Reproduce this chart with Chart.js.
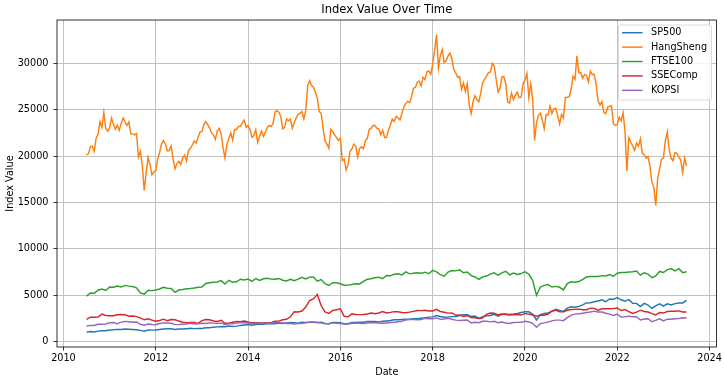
<!DOCTYPE html>
<html>
<head>
<meta charset="utf-8">
<script src="https://cdn.jsdelivr.net/npm/chart.js@4.4.0/dist/chart.umd.min.js"></script>
<style>
  html, body { margin: 0; padding: 0; background: #fff; }
  #wrap { width: 724px; height: 380px; }
</style>
</head>
<body>
<div id="wrap"><canvas id="indexChart" width="724" height="380"></canvas></div>
<script>
const seriesNames = ['SP500', 'HangSheng', 'FTSE100', 'SSEComp', 'KOPSI'];
const seriesColors = ['#1f77b4', '#ff7f0e', '#2ca02c', '#d62728', '#9467bd'];
const xTicks = [2010, 2012, 2014, 2016, 2018, 2020, 2022, 2024];
const yTicks = [0, 5000, 10000, 15000, 20000, 25000, 30000];

// month-end values, Jun 2010 .. Jun 2023
const sp500 = [
  1031, 1102, 1049, 1141, 1183, 1181, 1258,
  1286, 1327, 1326, 1364, 1345, 1321, 1292, 1219, 1131, 1253, 1247, 1258,
  1312, 1366, 1408, 1398, 1310, 1362, 1379, 1407, 1441, 1412, 1416, 1426,
  1498, 1515, 1569, 1598, 1631, 1606, 1686, 1633, 1682, 1757, 1806, 1848,
  1783, 1859, 1872, 1884, 1924, 1960, 1931, 2003, 1972, 2018, 2068, 2059,
  1995, 2105, 2068, 2086, 2107, 2063, 2104, 1972, 1920, 2079, 2080, 2044,
  1940, 1932, 2060, 2065, 2097, 2099, 2174, 2171, 2168, 2126, 2199, 2239,
  2279, 2364, 2363, 2384, 2412, 2423, 2470, 2472, 2519, 2575, 2648, 2674,
  2824, 2714, 2641, 2648, 2705, 2718, 2816, 2902, 2914, 2712, 2760, 2507,
  2704, 2784, 2834, 2946, 2752, 2942, 2980, 2926, 2977, 3038, 3141, 3231,
  3226, 2954, 2350, 2912, 3044, 3100, 3271, 3500, 3363, 3270, 3622, 3756,
  3714, 3811, 3973, 4181, 4204, 4298, 4395, 4523, 4308, 4605, 4567, 4766,
  4516, 4374, 4530, 4132, 4132, 3785, 4130, 3955, 3586, 3872, 4080, 3840,
  4077, 3970, 4109, 4169, 4180, 4450
];
const ftse100 = [
  4917, 5258, 5225, 5549, 5675, 5528, 5900,
  5863, 5994, 5909, 6070, 5990, 5946, 5815, 5250, 5128, 5544, 5505, 5572,
  5682, 5872, 5768, 5737, 5321, 5571, 5635, 5711, 5742, 5783, 5867, 5898,
  6277, 6361, 6412, 6430, 6583, 6215, 6621, 6413, 6462, 6731, 6651, 6749,
  6510, 6810, 6598, 6780, 6845, 6744, 6730, 6820, 6623, 6546, 6723, 6566,
  6749, 6947, 6773, 6961, 6984, 6521, 6696, 6248, 6062, 6361, 6356, 6242,
  6084, 6097, 6175, 6242, 6231, 6504, 6724, 6782, 6899, 6954, 6784, 7143,
  7099, 7263, 7323, 7204, 7520, 7313, 7372, 7431, 7373, 7493, 7327, 7688,
  7534, 7232, 7057, 7509, 7678, 7637, 7749, 7432, 7510, 7128, 6980, 6728,
  6969, 7075, 7279, 7418, 7162, 7426, 7587, 7207, 7408, 7248, 7347, 7542,
  7286, 6581, 5000, 5901, 6077, 6170, 5898, 5964, 5866, 5577, 6266, 6461,
  6407, 6483, 6714, 6970, 7023, 7037, 7032, 7120, 7086, 7238, 7059, 7385,
  7464, 7458, 7516, 7545, 7608, 7169, 7423, 7284, 6894, 7095, 7573, 7452,
  7772, 7876, 7632, 7871, 7446, 7532
];
const sseComp = [
  2398, 2638, 2639, 2656, 2979, 2820, 2808,
  2791, 2905, 2928, 2911, 2743, 2762, 2701, 2568, 2359, 2469, 2333, 2199,
  2292, 2428, 2262, 2397, 2373, 2225, 2103, 2047, 2086, 2069, 1980, 2269,
  2385, 2366, 2237, 2178, 2301, 1979, 1994, 2098, 2175, 2142, 2220, 2116,
  2033, 2056, 2033, 2026, 2039, 2048, 2202, 2217, 2364, 2420, 2683, 3235,
  3210, 3310, 3748, 4442, 4612, 5100, 3900, 3206, 3053, 3383, 3445, 3539,
  2738, 2688, 3004, 2938, 2917, 2930, 2979, 3085, 3005, 3100, 3250, 3104,
  3159, 3242, 3223, 3155, 3117, 3192, 3273, 3361, 3349, 3393, 3317, 3307,
  3481, 3259, 3169, 3082, 3095, 2847, 2876, 2725, 2821, 2603, 2588, 2494,
  2585, 2941, 3091, 3078, 2899, 2979, 2933, 2886, 2905, 2929, 2872, 3050,
  2977, 2880, 2750, 2860, 2852, 2985, 3310, 3396, 3218, 3225, 3392, 3473,
  3483, 3509, 3442, 3447, 3615, 3591, 3397, 3544, 3568, 3547, 3564, 3640,
  3361, 3462, 3252, 3047, 3186, 3399, 3253, 3202, 3024, 2893, 3151, 3089,
  3256, 3280, 3273, 3323, 3205, 3202
];
const kopsi = [
  1698, 1759, 1743, 1873, 1883, 1905, 2051,
  2069, 1939, 2107, 2192, 2142, 2101, 2133, 1880, 1770, 1909, 1848, 1826,
  1956, 2030, 2014, 1982, 1843, 1854, 1881, 1905, 1996, 1912, 1933, 1997,
  1962, 2027, 2005, 1964, 2001, 1863, 1920, 1926, 2005, 2031, 2044, 2011,
  1941, 1980, 1986, 1962, 1995, 2002, 2076, 2068, 2020, 1964, 1981, 1916,
  1949, 1986, 2041, 2127, 2115, 2074, 2030, 1941, 1963, 2029, 1992, 1961,
  1912, 1917, 1996, 1994, 1983, 1970, 2016, 2034, 2043, 2008, 1983, 2026,
  2067, 2091, 2160, 2205, 2347, 2392, 2403, 2363, 2394, 2523, 2476, 2467,
  2566, 2427, 2446, 2515, 2423, 2326, 2295, 2323, 2343, 2030, 2097, 2041,
  2205, 2195, 2141, 2204, 2042, 2131, 2025, 1967, 2063, 2083, 2088, 2198,
  2119, 1987, 1550, 1947, 2030, 2108, 2249, 2326, 2328, 2267, 2591, 2873,
  2976, 3013, 3061, 3148, 3204, 3297, 3202, 3199, 3069, 2971, 2839, 2977,
  2663, 2699, 2757, 2695, 2686, 2333, 2452, 2472, 2155, 2293, 2472, 2236,
  2425, 2413, 2477, 2501, 2577, 2564
];
// HangSheng: 2010-06-29, then mid-month / month-end pairs, Jul 2010 .. Jun 2023
const hangSheng = [
  20129,
  20250, 21030, 21070, 20536, 21970, 22358, 23700, 23096, 24700, 23007, 22700, 23035,
  24100, 23447, 22900, 23338, 22800, 23527, 24100, 23720, 23300, 23684, 22400, 22398,
  22300, 22440, 19900, 20534, 19000, 16300, 18200, 19864, 19100, 17989, 18300, 18434,
  19700, 20390, 21300, 21680, 21300, 20556, 20600, 21094, 19700, 18630, 19200, 19441,
  19100, 19796, 20100, 19482, 20600, 20840, 21200, 21642, 21400, 22030, 22600, 22657,
  23400, 23730, 23400, 23020, 22500, 22300, 21800, 22737, 23000, 22392, 20900, 19800,
  21300, 21883, 22500, 21731, 22900, 22860, 23200, 23206, 23600, 23881, 23100, 23306,
  22900, 22035, 22200, 22837, 21500, 22151, 22700, 22134, 22600, 23082, 23300, 23191,
  23500, 24757, 24900, 24742, 24300, 22933, 23100, 23998, 23800, 23987, 23000, 23605,
  24100, 24507, 24600, 24823, 24000, 24901, 27600, 28133, 27600, 27424, 26900, 26250,
  24800, 24636, 23000, 21670, 21300, 20846, 22900, 22640, 22300, 21996, 21700, 21914,
  19500, 19683, 18500, 19112, 20500, 20777, 21300, 21067, 19900, 20815, 21000, 20794,
  21700, 21891, 22900, 22977, 23300, 23297, 23000, 22935, 22300, 22790, 22000, 22001,
  22800, 23361, 24000, 23741, 24300, 24112, 23900, 24615, 25300, 25661, 25900, 25765,
  26400, 27324, 27400, 27970, 28100, 27554, 28500, 28246, 29100, 29177, 28800, 29919,
  31400, 33100, 29500, 30845, 31500, 30093, 30300, 30808, 31100, 30469, 29300, 28955,
  28500, 28583, 27200, 27889, 27000, 27789, 25500, 24600, 25900, 26507, 26100, 25846,
  26800, 27942, 28300, 28633, 29000, 29051, 30000, 29699, 28300, 26901, 27300, 28543,
  28600, 27778, 25800, 25725, 26800, 26092, 26600, 26907, 26300, 26346, 27800, 28190,
  28900, 26313, 27800, 26130, 21700, 23603, 24400, 24644, 23900, 22961, 24500, 24427,
  25400, 24595, 25100, 25177, 24400, 23459, 24500, 24107, 26300, 26341, 26400, 27231,
  28600, 28284, 30800, 28980, 29000, 28378, 28800, 28725, 28000, 29152, 28800, 28828,
  27700, 25961, 25500, 25879, 24700, 24576, 25300, 25377, 25400, 23475, 23300, 23398,
  24200, 23802, 24700, 22713, 18400, 21997, 21500, 21089, 20600, 21415, 21100, 21860,
  20300, 20157, 19800, 19954, 18900, 17223, 16600, 14687, 17600, 18597, 19700, 19781,
  21700, 22600, 20700, 19786, 19500, 20400, 20300, 19895, 19600, 18234, 19800, 18916
];

// month labels Jun 2010 .. Jun 2023
const months = [];
for (let y = 2010, m = 6; y < 2023 || (y === 2023 && m <= 6); ) {
  months.push(y + '-' + String(m).padStart(2, '0'));
  m++;
  if (m > 12) { m = 1; y++; }
}
const monthEnd = s => { const [y, m] = s.split('-').map(Number); return y + m / 12; };
const monthMid = s => { const [y, m] = s.split('-').map(Number); return y + (m - 0.5) / 12; };

const monthX = months.map(monthEnd);
const halfMonthX = [2010.49];
months.slice(1).forEach(s => { halfMonthX.push(monthMid(s), monthEnd(s)); });

const pts = (xs, ys) => ys.map((v, i) => ({ x: xs[i], y: v }));
const seriesPoints = [
  pts(monthX, sp500),
  pts(halfMonthX, hangSheng),
  pts(monthX, ftse100),
  pts(monthX, sseComp),
  pts(monthX, kopsi)
];

const FONT = 'DejaVu Sans';
const tickFont = { family: FONT, size: 9.7 };
const textColor = '#000';
const gridColor = '#c2c2c2';

// axes box on all four sides + matplotlib style legend
const axesFrame = {
  id: 'axesFrame',
  afterDraw(chart) {
    const { ctx, chartArea: a } = chart;
    ctx.save();
    ctx.strokeStyle = '#000';
    ctx.lineWidth = 0.8;
    ctx.strokeRect(a.left, a.top, a.right - a.left, a.bottom - a.top);

    const w = 93, h = 75;
    const x0 = a.right - 5 - w, y0 = a.top + 5;
    ctx.fillStyle = 'rgba(255,255,255,0.8)';
    ctx.strokeStyle = '#d0d0d0';
    ctx.lineWidth = 0.8;
    ctx.beginPath();
    ctx.roundRect(x0, y0, w, h, 2);
    ctx.fill();
    ctx.stroke();

    ctx.font = '9.7px "' + FONT + '"';
    ctx.textBaseline = 'middle';
    ctx.textAlign = 'left';
    chart.data.datasets.forEach((ds, i) => {
      const y = y0 + 7.7 + i * 14.4;
      ctx.strokeStyle = ds.borderColor;
      ctx.lineWidth = 1.45;
      ctx.beginPath();
      ctx.moveTo(x0 + 3.5, y);
      ctx.lineTo(x0 + 24, y);
      ctx.stroke();
      ctx.fillStyle = textColor;
      ctx.fillText(ds.label, x0 + 32.5, y);
    });
    ctx.restore();
  }
};

new Chart(document.getElementById('indexChart'), {
  type: 'line',
  data: {
    datasets: seriesNames.map((name, i) => ({
      label: name,
      data: seriesPoints[i],
      borderColor: seriesColors[i],
      backgroundColor: seriesColors[i],
      order: seriesNames.length - 1 - i
    }))
  },
  options: {
    responsive: false,
    animation: false,
    layout: { padding: { left: 0, right: 7, top: 0, bottom: 0 } },
    elements: {
      point: { radius: 0 },
      line: { tension: 0, borderWidth: 1.45 }
    },
    plugins: {
      legend: { display: false },
      tooltip: { enabled: false },
      title: {
        display: true,
        text: 'Index Value Over Time',
        fullSize: false,
        color: textColor,
        font: { family: FONT, size: 11.6, weight: 'normal' },
        padding: { top: 3, bottom: 3.1 }
      }
    },
    scales: {
      x: {
        type: 'linear',
        min: 2009.86,
        max: 2024.15,
        afterBuildTicks: s => { s.ticks = xTicks.map(v => ({ value: v })); },
        afterFit: s => { s.height = 33; },
        ticks: { callback: v => String(v), font: tickFont, color: textColor, padding: 2, maxRotation: 0, autoSkip: false },
        grid: { color: gridColor, lineWidth: 1, tickColor: '#000', tickLength: 3.5, tickWidth: 0.8 },
        border: { display: false },
        title: { display: true, text: 'Date', font: tickFont, color: textColor, padding: { top: 0, bottom: 2.2 } }
      },
      y: {
        min: -570,
        max: 34670,
        afterBuildTicks: s => { s.ticks = yTicks.map(v => ({ value: v })); },
        afterFit: s => { s.width = 57; },
        ticks: { callback: v => String(v), font: tickFont, color: textColor, padding: 5 },
        grid: { color: gridColor, lineWidth: 1, tickColor: '#000', tickLength: 3.5, tickWidth: 0.8 },
        border: { display: false },
        title: { display: true, text: 'Index Value', font: tickFont, color: textColor, padding: { top: 4.2, bottom: 0 } }
      }
    }
  },
  plugins: [axesFrame]
});
</script>
</body>
</html>
